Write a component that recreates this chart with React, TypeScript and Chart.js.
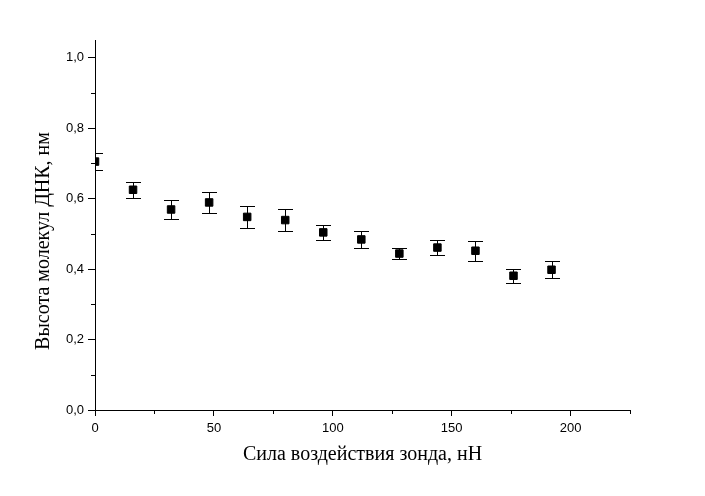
import React, { useEffect, useRef } from "react";
import { Chart, registerables } from "chart.js";

Chart.register(...registerables);

const forces = [0, 16, 32, 48, 64, 80, 96, 112, 128, 144, 160, 176, 192];
const heights = [0.705, 0.625, 0.569, 0.589, 0.548, 0.539, 0.504, 0.484, 0.444, 0.461, 0.452, 0.381, 0.398];
const errors = [0.024, 0.022, 0.026, 0.029, 0.032, 0.031, 0.022, 0.025, 0.016, 0.021, 0.028, 0.020, 0.024];
const xMinorTicks = [25, 75, 125, 175, 225];
const yMinorTicks = [0.1, 0.3, 0.5, 0.7, 0.9];
const xTitle = "Сила воздействия зонда, нН";
const yTitle = "Высота молекул ДНК, нм";

const errorBarPlugin = {
  id: "errorBars",
  afterDatasetsDraw(chart: any) {
    const { ctx, chartArea, scales } = chart;
    const xs = scales.x;
    const ys = scales.y;
    ctx.save();
    ctx.beginPath();
    ctx.rect(chartArea.left, chartArea.top, chartArea.right - chartArea.left, chartArea.bottom - chartArea.top);
    ctx.clip();
    ctx.strokeStyle = "#000";
    ctx.lineWidth = 1;
    const half = 7.5;
    forces.forEach((f, i) => {
      const px = Math.round(xs.getPixelForValue(f)) + 0.5;
      const pTop = Math.round(ys.getPixelForValue(heights[i] + errors[i])) + 0.5;
      const pBot = Math.round(ys.getPixelForValue(heights[i] - errors[i])) + 0.5;
      ctx.beginPath();
      ctx.moveTo(px, pTop);
      ctx.lineTo(px, pBot);
      ctx.moveTo(px - half, pTop);
      ctx.lineTo(px + half, pTop);
      ctx.moveTo(px - half, pBot);
      ctx.lineTo(px + half, pBot);
      ctx.stroke();
    });
    ctx.restore();
  },
  afterDraw(chart: any) {
    const { ctx, chartArea, scales } = chart;
    const xs = scales.x;
    const ys = scales.y;
    ctx.save();
    ctx.strokeStyle = "#000";
    ctx.lineWidth = 1;
    ctx.beginPath();
    xMinorTicks.forEach((v) => {
      const px = Math.round(xs.getPixelForValue(v)) + 0.5;
      ctx.moveTo(px, chartArea.bottom);
      ctx.lineTo(px, chartArea.bottom + 4);
    });
    yMinorTicks.forEach((v) => {
      const py = Math.round(ys.getPixelForValue(v)) + 0.5;
      ctx.moveTo(chartArea.left - 4, py);
      ctx.lineTo(chartArea.left, py);
    });
    ctx.stroke();
    // y axis title
    ctx.fillStyle = "#000";
    ctx.font = '20px "Liberation Serif"';
    ctx.textAlign = "center";
    ctx.textBaseline = "middle";
    ctx.translate(44, 241);
    ctx.rotate(-Math.PI / 2);
    ctx.fillText(yTitle, 0, 0);
    ctx.restore();
  },
};

export default function App() {
  const ref = useRef<HTMLCanvasElement | null>(null);

  useEffect(() => {
    document.body.style.margin = "0";
    if (!ref.current) return;
    const chart = new Chart(ref.current, {
      type: "scatter",
      data: {
        datasets: [
          {
            data: forces.map((f, i) => ({ x: f, y: heights[i] })),
            pointStyle: "rect",
            pointRadius: 5.3,
            pointHoverRadius: 5.3,
            backgroundColor: "#000",
            borderColor: "#000",
            borderWidth: 1,
            clip: 0,
          } as any,
        ],
      },
      options: {
        animation: false,
        responsive: true,
        maintainAspectRatio: false,
        events: [],
        layout: { padding: { top: 40, right: 75, left: 0, bottom: 0 } },
        plugins: { legend: { display: false }, tooltip: { enabled: false } },
        scales: {
          x: {
            type: "linear",
            min: 0,
            max: 225,
            afterFit: (s: any) => {
              s.height = 86;
            },
            ticks: {
              stepSize: 50,
              includeBounds: false,
              color: "#000",
              padding: 5,
              font: { family: '"Liberation Sans", Arial, sans-serif', size: 13 },
              maxRotation: 0,
            },
            grid: { drawOnChartArea: false, drawTicks: true, tickLength: 6, color: "#000" },
            border: { display: true, color: "#000", width: 1 },
            title: {
              display: true,
              text: xTitle,
              color: "#000",
              font: { family: '"Liberation Serif", serif', size: 20 },
              padding: { top: 0, bottom: 29 },
            },
          },
          y: {
            type: "linear",
            min: 0,
            max: 1.05,
            afterFit: (s: any) => {
              s.width = 95;
            },
            ticks: {
              stepSize: 0.2,
              includeBounds: false,
              color: "#000",
              padding: 4,
              font: { family: '"Liberation Sans", Arial, sans-serif', size: 13 },
              callback: (v: any) => Number(v).toFixed(1).replace(".", ","),
            },
            grid: { drawOnChartArea: false, drawTicks: true, tickLength: 7, color: "#000" },
            border: { display: true, color: "#000", width: 1 },
          },
        },
      },
      plugins: [errorBarPlugin],
    });
    return () => chart.destroy();
  }, []);

  return (
    <div style={{ width: 705, height: 496, position: "relative", background: "#fff" }}>
      <canvas ref={ref} />
    </div>
  );
}
